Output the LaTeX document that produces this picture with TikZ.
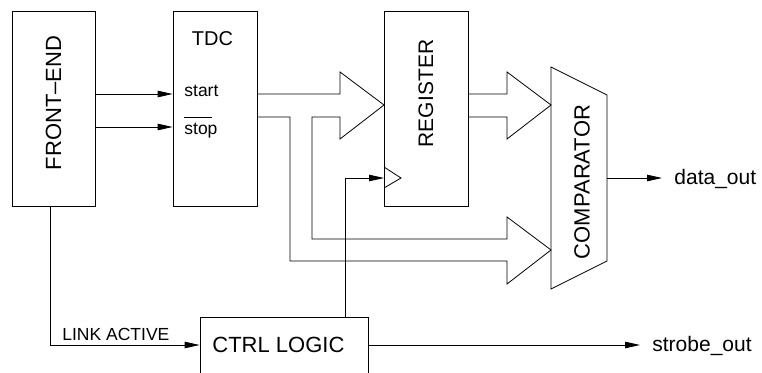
\documentclass[tikz,border=0pt]{standalone}
\usepackage{fontspec}
\setmainfont{Liberation Sans}
\usetikzlibrary{arrows.meta,calc}

\begin{document}
\begin{tikzpicture}[x=1pt,y=-1pt,line width=0.8pt,
	blk/.style={draw,inner sep=0pt},
	txt/.style={inner sep=0pt},
	sig/.style={-{Triangle[length=15pt,width=6.5pt]}},
	big/.style={font=\fontsize{22}{24}\selectfont},
	mid/.style={font=\fontsize{21}{23}\selectfont},
	sml/.style={font=\fontsize{17.5}{20}\selectfont}]
	\useasboundingbox (0,0) rectangle (762,372);
	\node[blk,minimum width=83pt,minimum height=195pt] (fe) at (53.5,108.5) {};
	\node[blk,minimum width=84pt,minimum height=195pt] (tdc) at (215,108.5) {};
	\node[blk,minimum width=84pt,minimum height=195pt] (reg) at (426,108.5) {};
	\node[blk,minimum width=168pt,minimum height=56pt] (ctrl) at (284,345) {};
	\path
	(0,94) coordinate (ystart)
	(0,127) coordinate (ystop)
	(50,0) coordinate (xlink)
	(345,0) coordinate (xclk)
	(384,178) coordinate (clk)
	(551,67) coordinate (C1)
	(607,95) coordinate (C2)
	(607,261) coordinate (C3)
	(551,289) coordinate (C4)
	(607,178) coordinate (cmp)
	(662,178) coordinate (dout)
	(640,345) coordinate (sout);
	\draw (C1)--(C2)--(C3)--(C4)--cycle;
	\draw (tdc.east |- ystart)--(340,94)--(340,72)--(384,105)--(340,139)--(340,117)--(312,117)--(312,239)
	--(507,239)--(507,217)--(551,250)--(507,284)--(507,261)--(290,261)--(290,117)--(257,117);
	\draw (reg.east |- ystart)--(507,94)--(507,72)--(551,105)--(507,139)--(507,117)--(468,117);
	\draw (384,167)--(401,178)--(384,188);
	\foreach \y in {ystart,ystop} \draw[sig] (fe.east |- \y)--(tdc.west |- \y);
	\draw[sig] (fe.south -| xlink) |- (ctrl.west);
	\draw[sig] (ctrl.north -| xclk) |- (clk);
	\draw[sig] (cmp)--(dout);
	\draw[sig] (ctrl.east)--(sout);
	\node[txt,big,rotate=90] (tfe) at (53.5,103) {FRONT–END};
	\node[txt,font=\fontsize{20}{22}\selectfont] (ttdc) at (212.5,38.5) {TDC};
	\node[txt,sml,anchor=base west] (tstart) at (184,96) {start};
	\node[txt,sml,anchor=base west] (tstop) at (184,134) {stop};
	\draw ($(tstop.north west)+(0,-5)$)--++(28,0);
	\node[txt,mid,rotate=90] (treg) at (426,93.5) {REGISTER};
	\node[txt,big,rotate=90] (tcmp) at (582,182) {COMPARATOR};
	\node[txt,big,anchor=base west] (tctrl) at (212,352) {CTRL LOGIC};
	\node[txt,sml,anchor=base west] (tlink) at (62,340) {LINK ACTIVE};
	\node[txt,mid,anchor=base west] (tdout) at (674,184) {data\_out};
	\node[txt,mid,anchor=base west] (tsout) at (652,351) {strobe\_out};
\end{tikzpicture}
\end{document}
